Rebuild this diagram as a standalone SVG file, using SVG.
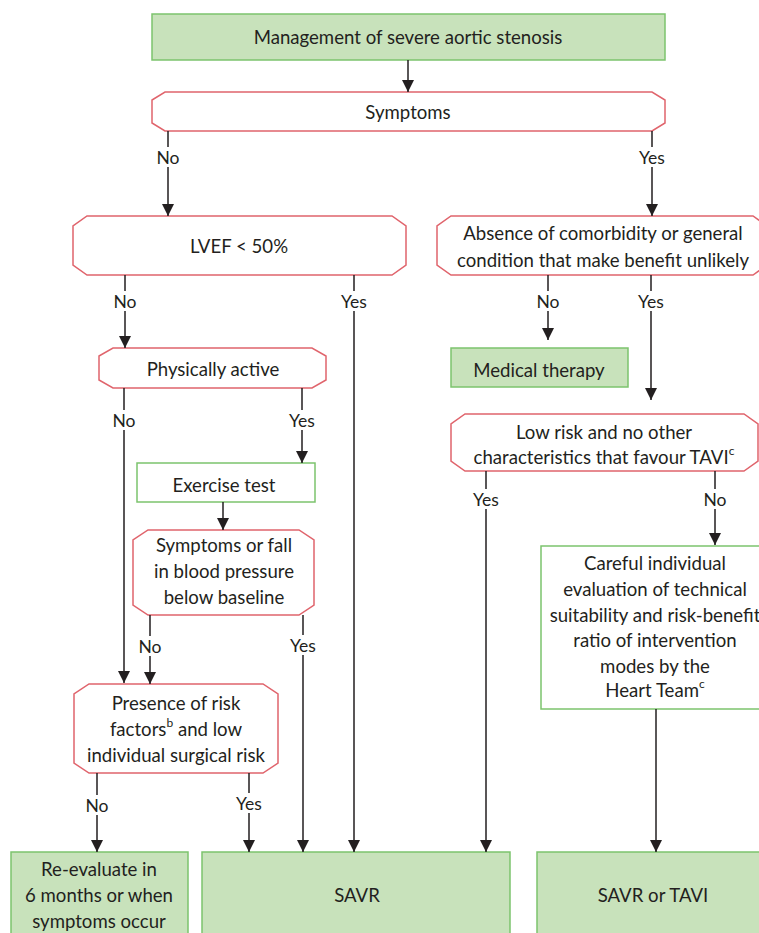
<svg xmlns="http://www.w3.org/2000/svg" width="759" height="933" viewBox="0 0 759 933">
<defs>
<style>
text{font-family:Lato,"Open Sans","Liberation Sans",sans-serif;font-size:18.6px;fill:#231f20;text-anchor:middle;dominant-baseline:central}
.g{fill:#c8e2bb;stroke:#7cc36d;stroke-width:1.5}
.gw{fill:#fff;stroke:#7cc36d;stroke-width:1.5}
.r{fill:#fff;stroke:#e0646c;stroke-width:1.5}
.c path{fill:none;stroke:#231f20;stroke-width:1.5;marker-end:url(#arr)}
.lbl{font-size:17.5px}
.sup{font-size:12px}
</style>
<marker id="arr" markerWidth="12" markerHeight="12" refX="12" refY="6" orient="auto" markerUnits="userSpaceOnUse"><path d="M0,0 L12,6 L0,12 Z" fill="#231f20"/></marker>
</defs>

<g id="n-top"><rect class="g" x="152" y="14" width="513" height="46"/><text x="408" y="37">Management of severe aortic stenosis</text></g>
<g id="n-symptoms"><path class="r" d="M165,92 H652 L665,100 V123 L652,131 H165 L152,123 V100 Z"/><text x="408" y="112">Symptoms</text></g>
<g id="n-lvef"><path class="r" d="M87,216 H392 L406,226 V265 L392,275 H87 L73,265 V226 Z"/><text x="239" y="246">LVEF &lt; 50%</text></g>
<g id="n-absence"><path class="r" d="M451,216 H753 L767,226 V265 L753,275 H451 L437,265 V226 Z"/><text x="603" y="233">Absence of comorbidity or general</text><text x="603" y="260">condition that make benefit unlikely</text></g>
<g id="n-active"><path class="r" d="M113,348 H312 L326,356 V380 L312,388 H113 L99,380 V356 Z"/><text x="213" y="369">Physically active</text></g>
<g id="n-medical"><rect class="g" x="451" y="348" width="177" height="39"/><text x="539" y="370">Medical therapy</text></g>
<g id="n-exercise"><rect class="gw" x="137" y="463" width="178" height="39"/><text x="224" y="485">Exercise test</text></g>
<g id="n-fall"><path class="r" d="M148,530 H299 L314,540 V605 L299,615 H148 L133,605 V540 Z"/><text x="224" y="545">Symptoms or fall</text><text x="224" y="571">in blood pressure</text><text x="224" y="597">below baseline</text></g>
<g id="n-presence"><path class="r" d="M89,684 H263 L278,694 V763 L263,773 H89 L74,763 V694 Z"/><text x="176" y="703">Presence of risk</text><text x="176" y="729">factors<tspan class="sup" dy="-7">b</tspan><tspan dy="7"> and low</tspan></text><text x="176" y="755">individual surgical risk</text></g>
<g id="n-lowrisk"><path class="r" d="M465,414 H744 L758,424 V461 L744,471 H465 L451,461 V424 Z"/><text x="604" y="432">Low risk and no other</text><text x="604" y="457">characteristics that favour TAVI<tspan class="sup" dy="-7">c</tspan></text></g>
<g id="n-careful"><rect class="gw" x="541" y="546" width="230" height="163"/><text x="655" y="563">Careful individual</text><text x="655" y="589">evaluation of technical</text><text x="655" y="615">suitability and risk-benefit</text><text x="655" y="640">ratio of intervention</text><text x="655" y="666">modes by the</text><text x="655" y="690">Heart Team<tspan class="sup" dy="-7">c</tspan></text></g>
<g id="n-reeval"><rect class="g" x="11" y="852" width="177" height="100"/><text x="99" y="869">Re-evaluate in</text><text x="99" y="895">6 months or when</text><text x="99" y="921">symptoms occur</text></g>
<g id="n-savr"><rect class="g" x="202" y="852" width="308" height="100"/><text x="357" y="895">SAVR</text></g>
<g id="n-savrtavi"><rect class="g" x="537" y="852" width="240" height="100"/><text x="653" y="895">SAVR or TAVI</text></g>

<g id="connectors" class="c">
<path d="M408,60 V92"/>
<path d="M168,131 V147 M168,167 V216"/>
<path d="M652,131 V147 M652,167 V216"/>
<path d="M125,275 V291 M125,311 V348"/>
<path d="M354,275 V291 M354,311 V852"/>
<path d="M548,275 V291 M548,311 V340"/>
<path d="M651,275 V291 M651,311 V400"/>
<path d="M124,388 V410 M124,430 V683"/>
<path d="M302,388 V410 M302,430 V463"/>
<path d="M223,502 V530"/>
<path d="M150,615 V636 M150,656 V684"/>
<path d="M303,615 V635 M303,655 V852"/>
<path d="M97,773 V795 M97,815 V852"/>
<path d="M249,773 V793 M249,813 V852"/>
<path d="M486,471 V489 M486,509 V852"/>
<path d="M715,471 V489 M715,509 V545"/>
<path d="M656,709 V852"/>
</g>
<g id="labels">
<text class="lbl" x="168" y="157">No</text>
<text class="lbl" x="652" y="157">Yes</text>
<text class="lbl" x="125" y="301">No</text>
<text class="lbl" x="354" y="301">Yes</text>
<text class="lbl" x="548" y="301">No</text>
<text class="lbl" x="651" y="301">Yes</text>
<text class="lbl" x="124" y="420">No</text>
<text class="lbl" x="302" y="420">Yes</text>
<text class="lbl" x="150" y="646">No</text>
<text class="lbl" x="303" y="645">Yes</text>
<text class="lbl" x="486" y="499">Yes</text>
<text class="lbl" x="715" y="499">No</text>
<text class="lbl" x="97" y="805">No</text>
<text class="lbl" x="249" y="803">Yes</text>
</g>
</svg>
